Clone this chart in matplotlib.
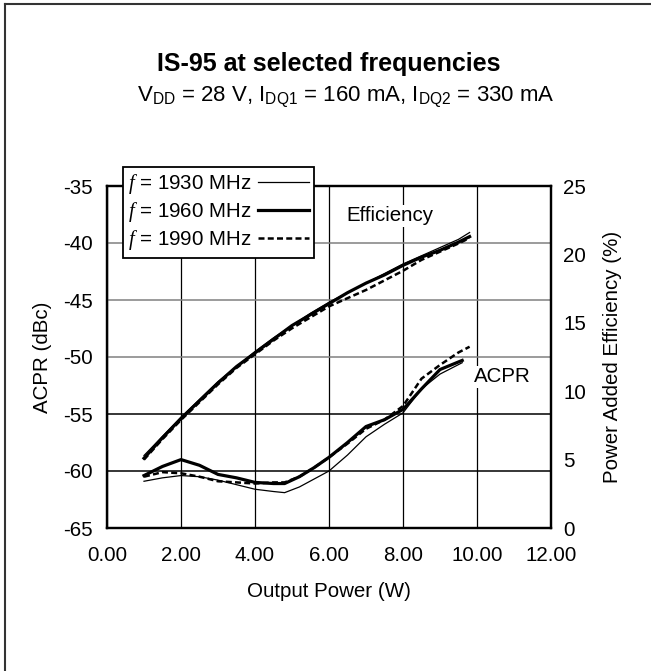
import matplotlib
matplotlib.use("Agg")
import matplotlib.pyplot as plt
from matplotlib.lines import Line2D

plt.rcParams['font.family'] = ['Liberation Sans', 'DejaVu Sans']
plt.rcParams['mathtext.fontset'] = 'custom'
plt.rcParams['mathtext.rm'] = 'Liberation Sans'
plt.rcParams['mathtext.it'] = 'Liberation Serif:italic'
plt.rcParams['axes.unicode_minus'] = False

# output power (W)
x_eff = [1.0, 1.5, 2.0, 2.5, 3.0, 3.5, 4.0, 4.5, 5.0, 5.5, 6.0, 6.5, 7.0, 7.5, 8.0, 8.5, 9.0, 9.5, 9.8]
# power added efficiency (%)
eff_1930 = [5.3, 6.7, 8.1, 9.4, 10.7, 11.8, 12.9, 13.9, 14.8, 15.7, 16.5, 17.2, 17.9, 18.6, 19.3, 19.9, 20.5, 21.1, 21.6]
eff_1960 = [5.1, 6.6, 8.0, 9.3, 10.6, 11.8, 12.8, 13.8, 14.8, 15.6, 16.4, 17.2, 17.9, 18.5, 19.2, 19.8, 20.3, 20.9, 21.3]
eff_1990 = [5.0, 6.5, 7.9, 9.2, 10.5, 11.7, 12.7, 13.7, 14.6, 15.4, 16.2, 16.8, 17.4, 18.1, 18.8, 19.6, 20.2, 20.8, 21.2]

# ACPR (dBc)
x_acpr = [1.0, 1.5, 2.0, 2.5, 3.0, 3.5, 4.0, 4.5, 4.8, 5.2, 5.6, 6.0, 6.5, 7.0, 7.5, 8.0, 8.5, 9.0, 9.6]
acpr_1930 = [-60.9, -60.6, -60.4, -60.5, -60.8, -61.2, -61.6, -61.8, -61.9, -61.4, -60.7, -60.0, -58.6, -57.0, -55.9, -54.9, -52.8, -51.5, -50.5]
acpr_1960 = [-60.4, -59.6, -59.0, -59.5, -60.3, -60.6, -61.0, -61.1, -61.1, -60.5, -59.7, -58.8, -57.5, -56.1, -55.5, -54.6, -52.8, -51.1, -50.3]
x_acpr_1990 = [1.0, 1.5, 2.0, 2.5, 3.0, 3.5, 4.0, 4.5, 4.8, 5.2, 5.6, 6.0, 6.5, 7.0, 7.5, 8.0, 8.5, 9.0, 9.5, 9.8]
acpr_1990 = [-60.5, -60.1, -60.2, -60.5, -60.9, -61.0, -61.1, -61.0, -61.0, -60.5, -59.7, -58.8, -57.6, -56.3, -55.5, -54.3, -51.9, -50.7, -49.6, -49.1]

labels = [r'$f$ = 1930 MHz', r'$f$ = 1960 MHz', r'$f$ = 1990 MHz']
x_ticks = [0, 2, 4, 6, 8, 10, 12]
y_ticks = [-65, -60, -55, -50, -45, -40, -35]
y2_ticks = [0, 5, 10, 15, 20, 25]

fs = 14.8
fig = plt.figure(figsize=(6.51, 6.71), dpi=100)
ax = fig.add_axes([107 / 651, 1 - 528 / 671, 444 / 651, 342 / 671])
ax2 = ax.twinx()

thin = dict(color='black', lw=0.9)
thick = dict(color='black', lw=2.3)
dash = dict(color='black', lw=1.8, ls=(0, (2.4, 1.3)))

h1, = ax.plot(x_acpr, acpr_1930, **thin)
h2, = ax.plot(x_acpr, acpr_1960, **thick)
h3, = ax.plot(x_acpr_1990, acpr_1990, **dash)
ax2.plot(x_eff, eff_1930, **thin)
ax2.plot(x_eff, eff_1960, **thick)
ax2.plot(x_eff, eff_1990, **dash)

ax.set_xlim(0, 12)
ax.set_ylim(-65, -35)
ax2.set_ylim(0, 25)
ax.set_xticks(x_ticks)
ax.set_xticklabels(['%.2f' % v for v in x_ticks])
ax.set_yticks(y_ticks)
ax2.set_yticks(y2_ticks)

ax.tick_params(axis='both', length=0, labelsize=fs)
ax.tick_params(axis='y', pad=10)
ax.tick_params(axis='x', pad=13)
ax2.tick_params(axis='y', length=0, labelsize=fs, pad=9)

ax.grid(axis='x', color='black', lw=0.9)
ax.grid(axis='y', color='#808080', lw=1.1)
grid_colors = ['black', 'black', 'black', '#808080', '#808080', '#808080', 'black']
for gl, c in zip(ax.yaxis.get_gridlines(), grid_colors):
    gl.set_color(c)
ax.set_axisbelow(True)

for a in (ax, ax2):
    for s in a.spines.values():
        s.set_linewidth(1.6)
        s.set_color('black')

ax.set_xlabel('Output Power (W)', fontsize=fs, labelpad=12)
ax.set_ylabel('ACPR (dBc)', fontsize=fs, labelpad=8)
ax2.set_ylabel('Power Added Efficiency (%)', fontsize=fs, labelpad=12)

ax.text(7.65, -37.6, 'Efficiency', fontsize=fs, ha='center', va='center',
        bbox=dict(facecolor='white', edgecolor='none', pad=1), zorder=3)
ax.text(10.68, -51.75, 'ACPR', fontsize=fs, ha='center', va='center',
        bbox=dict(facecolor='white', edgecolor='none', pad=1), zorder=3)

fig.text(329 / 651, 1 - 64 / 671, 'IS-95 at selected frequencies', fontsize=18,
         fontweight='bold', ha='center', va='center')
fig.text(346 / 651, 1 - 97 / 671,
         r'V$_{\rm DD}$ = 28 V, I$_{\rm DQ1}$ = 160 mA, I$_{\rm DQ2}$ = 330 mA',
         fontsize=16, ha='center', va='center')

leg = ax2.legend([h1, h2, h3], labels, loc='upper left',
                 bbox_to_anchor=(123 / 651, 1 - 167 / 671), bbox_transform=fig.transFigure,
                 markerfirst=False, fontsize=fs, frameon=True, fancybox=False,
                 framealpha=1, edgecolor='black', handlelength=2.5, handletextpad=0.3,
                 labelspacing=0.2, borderpad=0.25, borderaxespad=0)
leg.get_frame().set_linewidth(1.3)

# outer border (top and left edges visible)
fig.add_artist(Line2D([5 / 651, 1], [1 - 3.5 / 671, 1 - 3.5 / 671],
                      transform=fig.transFigure, color='#333333', lw=1.5))
fig.add_artist(Line2D([5 / 651, 5 / 651], [0, 1 - 3.5 / 671],
                      transform=fig.transFigure, color='#333333', lw=1.5))

fig.savefig('out.png', dpi=100)
